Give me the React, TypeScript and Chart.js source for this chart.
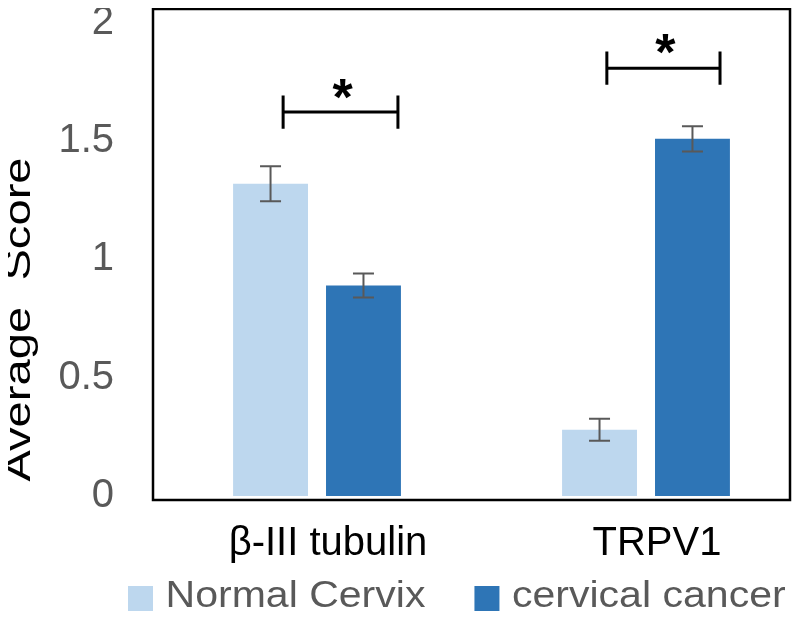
import React, { useEffect, useRef } from 'react';
import { Chart, registerables } from 'chart.js';

Chart.register(...registerables);

// ---- data ----
const categories = ['β-III tubulin', 'TRPV1'];
const seriesNames = ['Normal Cervix', 'cervical cancer'];
const normalValues = [1.32, 0.28];
const cancerValues = [0.89, 1.51];
const normalErrors = [0.074, 0.047];
const cancerErrors = [0.051, 0.053];
const yTickValues = [0, 0.5, 1, 1.5, 2];
const yTitle = 'Average  Score';

// significance brackets (x in category units, y in score units)
const bracketStart = [-0.103, 0.881];
const bracketEnd = [0.246, 1.225];
const bracketY = [1.623, 1.809];
const bracketTickHalf = 0.07;
const starY = [1.708, 1.898];
const starLabels = ['*', '*'];

// ---- styles ----
const FONT = "'Liberation Sans', Arial, sans-serif";
const seriesColors = ['#BDD7EE', '#2E75B6'];
const seriesValues = [normalValues, cancerValues];
const seriesErrors = [normalErrors, cancerErrors];

const framePlugin = {
  id: 'plotFrame',
  afterDraw(chart: any) {
    const { ctx, chartArea: a } = chart;
    ctx.save();
    ctx.strokeStyle = '#000';
    ctx.lineWidth = 2.5;
    ctx.beginPath();
    ctx.moveTo(a.left, a.top);
    ctx.lineTo(a.right, a.top);
    ctx.lineTo(a.right, a.bottom);
    ctx.lineTo(a.left, a.bottom);
    ctx.closePath();
    ctx.stroke();
    ctx.restore();
  },
};

const errorBarPlugin = {
  id: 'errorBars',
  afterDatasetsDraw(chart: any) {
    const { ctx } = chart;
    const y = chart.scales.y;
    ctx.save();
    ctx.strokeStyle = '#595959';
    ctx.lineWidth = 2;
    chart.data.datasets.forEach((_ds: any, d: number) => {
      const meta = chart.getDatasetMeta(d);
      meta.data.forEach((el: any, i: number) => {
        const v = seriesValues[d][i];
        const e = seriesErrors[d][i];
        const top = y.getPixelForValue(v + e);
        const bot = y.getPixelForValue(v - e);
        const x = el.x;
        const cap = 10.5;
        ctx.beginPath();
        ctx.moveTo(x, top);
        ctx.lineTo(x, bot);
        ctx.moveTo(x - cap, top);
        ctx.lineTo(x + cap, top);
        ctx.moveTo(x - cap, bot);
        ctx.lineTo(x + cap, bot);
        ctx.stroke();
      });
    });
    ctx.restore();
  },
};

const bracketPlugin = {
  id: 'brackets',
  afterDatasetsDraw(chart: any) {
    const { ctx } = chart;
    const xs = chart.scales.x;
    const ys = chart.scales.y;
    ctx.save();
    ctx.strokeStyle = '#000';
    ctx.fillStyle = '#000';
    ctx.lineWidth = 3;
    bracketStart.forEach((s, i) => {
      const x1 = xs.getPixelForValue(s);
      const x2 = xs.getPixelForValue(bracketEnd[i]);
      const yy = ys.getPixelForValue(bracketY[i]);
      const yt = ys.getPixelForValue(bracketY[i] + bracketTickHalf);
      const yb = ys.getPixelForValue(bracketY[i] - bracketTickHalf);
      ctx.beginPath();
      ctx.moveTo(x1, yy);
      ctx.lineTo(x2, yy);
      ctx.moveTo(x1, yt);
      ctx.lineTo(x1, yb);
      ctx.moveTo(x2, yt);
      ctx.lineTo(x2, yb);
      ctx.stroke();
      const size = 52;
      ctx.font = `bold ${size}px ${FONT}`;
      ctx.textAlign = 'center';
      ctx.textBaseline = 'alphabetic';
      const sx = (x1 + x2) / 2 + 2;
      const sy = ys.getPixelForValue(starY[i]) + 0.44 * size;
      ctx.fillText(starLabels[i], sx, sy);
    });
    ctx.restore();
  },
};

const titlePlugin = {
  id: 'yTitleCustom',
  afterDraw(chart: any) {
    const { ctx } = chart;
    ctx.save();
    ctx.font = `36px ${FONT}`;
    ctx.fillStyle = '#000';
    ctx.textAlign = 'center';
    ctx.textBaseline = 'alphabetic';
    ctx.translate(30, 319.5);
    ctx.rotate(-Math.PI / 2);
    ctx.scale(1.31, 1);
    ctx.fillText(yTitle, 0, 0);
    ctx.restore();
  },
};

const legendPlugin = {
  id: 'legendCustom',
  afterDraw(chart: any) {
    const { ctx } = chart;
    ctx.save();
    const size = 36;
    const stretch = 1.14;
    ctx.font = `${size}px ${FONT}`;
    ctx.textAlign = 'left';
    ctx.textBaseline = 'alphabetic';
    let x = 128;
    const boxTop = 586;
    const box = 25;
    const baseline = 607;
    chart.data.datasets.forEach((ds: any) => {
      ctx.fillStyle = ds.backgroundColor;
      ctx.fillRect(x, boxTop, box, box);
      const tx = x + box + 12.5;
      ctx.save();
      ctx.translate(tx, baseline);
      ctx.scale(stretch, 1);
      ctx.fillStyle = '#595959';
      ctx.fillText(ds.label, 0, 0);
      ctx.restore();
      const w = ctx.measureText(ds.label).width * stretch;
      x = tx + w + 49;
    });
    ctx.restore();
  },
};

export default function App() {
  const ref = useRef<HTMLCanvasElement | null>(null);

  useEffect(() => {
    if (!ref.current) return;
    const chart = new Chart(ref.current, {
      type: 'bar',
      data: {
        datasets: seriesNames.map((name, d) => ({
          label: name,
          data: seriesValues[d].map((v, i) => ({ x: i, y: v })),
          backgroundColor: seriesColors[d],
          borderWidth: 0,
          categoryPercentage: 0.565,
          barPercentage: 0.806,
        })),
      },
      options: {
        responsive: false,
        animation: false,
        layout: { padding: { top: 9, right: 10, left: 0, bottom: 0 } },
        plugins: {
          legend: { display: false },
          tooltip: { enabled: false },
        },
        scales: {
          x: {
            type: 'linear',
            min: -0.4985,
            max: 1.4377,
            offset: false,
            grid: { display: false },
            border: { display: false },
            afterBuildTicks: (scale: any) => {
              scale.ticks = categories.map((_c, i) => ({ value: i }));
            },
            afterFit: (scale: any) => {
              scale.height = 120;
              scale.paddingLeft = 0;
              scale.paddingRight = 0;
            },
            ticks: {
              autoSkip: false,
              maxRotation: 0,
              minRotation: 0,
              padding: 12,
              labelOffset: 11,
              color: '#000',
              font: { family: FONT, size: 40 },
              callback: (value: any) => categories[Math.round(Number(value))] ?? '',
            },
          },
          y: {
            type: 'linear',
            min: -0.017,
            max: 2.059,
            grid: { display: false },
            border: { display: false },
            afterBuildTicks: (scale: any) => {
              scale.ticks = yTickValues.map((v) => ({ value: v }));
            },
            afterFit: (scale: any) => {
              scale.width = 153;
              scale.paddingTop = 0;
              scale.paddingBottom = 0;
            },
            ticks: {
              padding: 31,
              color: '#595959',
              font: { family: FONT, size: 40 },
              callback: (value: any) => String(value),
            },
          },
        },
      } as any,
      plugins: [framePlugin, errorBarPlugin, bracketPlugin, titlePlugin, legendPlugin],
    });
    return () => chart.destroy();
  }, []);

  return (
    <div style={{ margin: -8, width: 800, height: 620 }}>
      <canvas ref={ref} width={800} height={620} style={{ display: 'block' }} />
    </div>
  );
}
